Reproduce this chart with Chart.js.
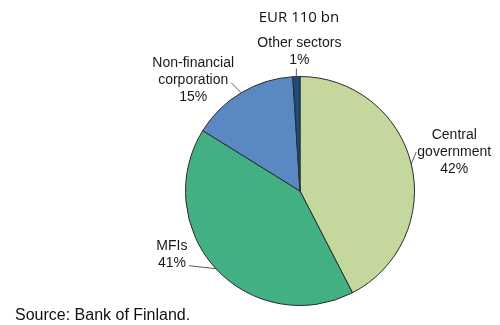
<!DOCTYPE html>
<html>
<head>
<meta charset="utf-8">
<script src="https://cdn.jsdelivr.net/npm/chart.js@4"></script>
<style>
  html, body { margin: 0; padding: 0; background: #fff; }
  canvas { display: block; }
</style>
</head>
<body>
<canvas id="pie" width="500" height="325"></canvas>
<script>
// holders of the debt, share of total (%)
const sectors = ['Central government', 'MFIs', 'Non-financial corporation', 'Other sectors'];
const shares = [42, 41, 15, 1];
const sliceColors = ['#C4D79C', '#43B084', '#5A88C2', '#1F4A7D'];

// label text per slice, split in lines
const labelLines = [
    ['Central', 'government', '42%'],
    ['MFIs', '41%'],
    ['Non-financial', 'corporation', '15%'],
    ['Other sectors', '1%']
];

const titleText = 'EUR 110 bn';
const sourceText = 'Source: Bank of Finland.';

// where each label sits relative to the outer edge of its slice
const labelPlacement = [
    { tx: 43, ty: -29, lx: 5, ly: -12 },
    { tx: -44, ty: -23, lx: -27, ly: -3 },
    { tx: -48, ty: -30, lx: -10, ly: -10 },
    { tx: 3, ty: -33, lx: 0, ly: -8 }
];

const sliceLabels = {
    id: 'sliceLabels',
    afterDatasetsDraw(chart) {
        const ctx = chart.ctx;
        const arcs = chart.getDatasetMeta(0).data;
        ctx.save();
        ctx.font = '14px "Liberation Sans", Arial, sans-serif';
        ctx.fillStyle = '#1a1a1a';
        ctx.textAlign = 'center';
        ctx.textBaseline = 'middle';
        arcs.forEach((arc, i) => {
            const mid = (arc.startAngle + arc.endAngle) / 2;
            const ex = arc.x + Math.cos(mid) * arc.outerRadius;
            const ey = arc.y + Math.sin(mid) * arc.outerRadius;
            const p = labelPlacement[i];

            // leader line from the slice edge to the label
            ctx.strokeStyle = '#333';
            ctx.lineWidth = 0.8;
            ctx.beginPath();
            ctx.moveTo(ex, ey);
            ctx.lineTo(ex + p.lx, ey + p.ly);
            ctx.stroke();

            labelLines[i].forEach((line, k) => {
                ctx.fillText(line, ex + p.tx, ey + p.ty + k * 17);
            });
        });

        // heading over the pie
        ctx.font = '15px "Open Sans", sans-serif';
        ctx.fillStyle = '#111';
        ctx.fillText(titleText, arcs[0].x - 1, 18);

        // source line
        ctx.font = '16px "Liberation Sans", Arial, sans-serif';
        ctx.textAlign = 'left';
        ctx.fillStyle = '#111';
        ctx.fillText(sourceText, 15, 316);
        ctx.restore();
    }
};

new Chart(document.getElementById('pie'), {
    type: 'pie',
    data: {
        labels: sectors,
        datasets: [{
            data: shares,
            backgroundColor: sliceColors,
            borderColor: '#2a2a2a',
            borderWidth: 1
        }]
    },
    options: {
        responsive: false,
        animation: false,
        layout: { padding: { left: 185, right: 85, top: 76, bottom: 19 } },
        plugins: {
            legend: { display: false },
            tooltip: { enabled: false }
        }
    },
    plugins: [sliceLabels]
});
</script>
</body>
</html>
